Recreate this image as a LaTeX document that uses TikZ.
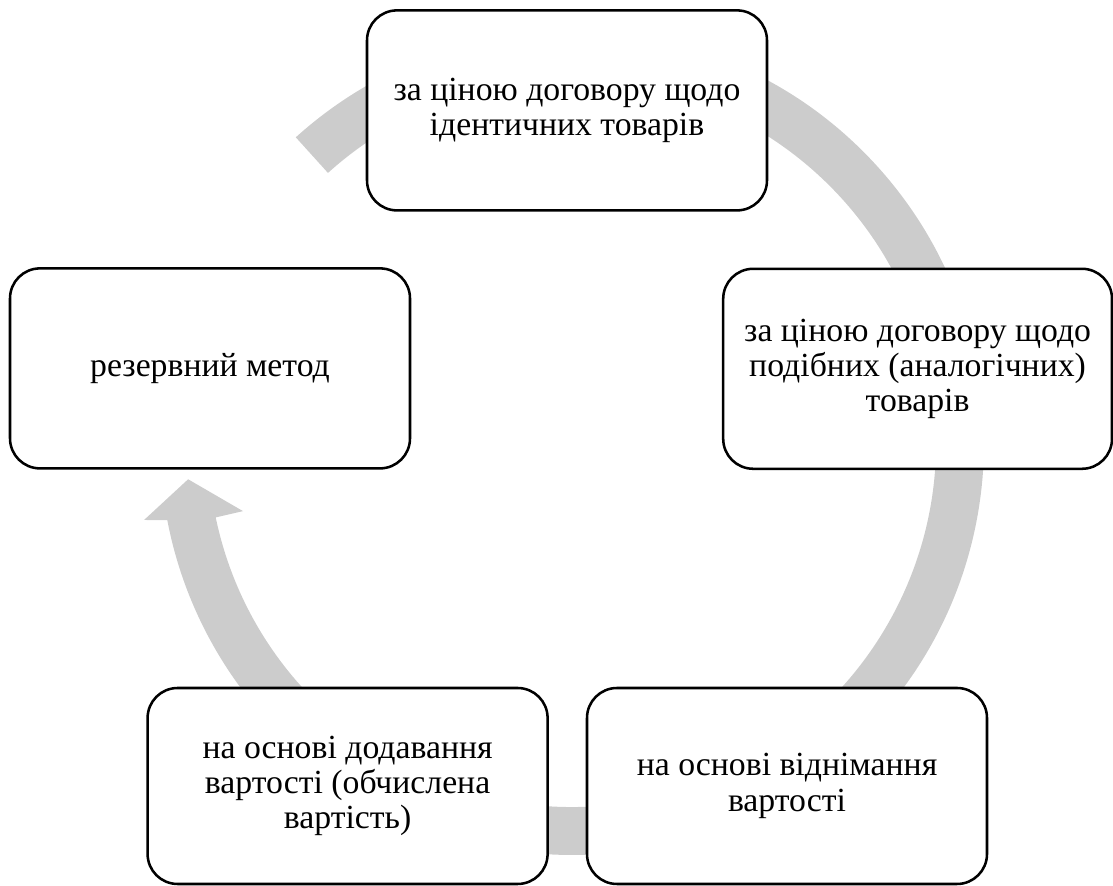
\documentclass[tikz,border=0pt]{standalone}
\usepackage{fontspec}
\setmainfont{Liberation Serif}
\usepackage{tikz}
\usetikzlibrary{calc}
\definecolor{cyclegray}{RGB}{204, 204, 204}

\begin{document}
\begin{tikzpicture}[
  method/.style={draw, rounded corners=0.75cm, fill=white, line width=1.8pt,
    minimum height=5cm, minimum width=10cm, align=center,
    font=\fontsize{24}{25}\selectfont}
]
  \useasboundingbox (0, 0) rectangle (27.825, 22.15);

  % Cycle arrow
  \coordinate (c) at (14.3, 11.075);
  \fill[cyclegray] ($(c)+(132.1:10.3)$)
    arc[start angle=132.1, end angle=-169.2, radius=10.3]
    -- ($(c)+(-169.8:10.87)$) -- ($(c)+(-174.6:9.64)$) -- ($(c)+(-168.3:8.4)$)
    -- ($(c)+(-168.2:9.1)$)
    arc[start angle=-168.2, end angle=132.1, radius=9.1] -- cycle;

  % Blocks
  \node[method] (ident) at (14.175, 19.39)
    {за ціною договору щодо\\ ідентичних товарів};
  \node[method, minimum width=9.72cm] (simil) at (22.94, 12.93)
    {за ціною договору щодо\\ подібних (аналогічних)\\ товарів};
  \node[method, minimum height=4.9cm] (deduct) at (19.675, 2.5)
    {на основі віднімання\\ вартості};
  \node[method, minimum height=4.9cm] (comput) at (8.69, 2.5)
    {на основі додавання\\ вартості (обчислена\\ вартість)};
  \node[method] (reserve) at (5.25, 12.94) {резервний метод};
\end{tikzpicture}
\end{document}
